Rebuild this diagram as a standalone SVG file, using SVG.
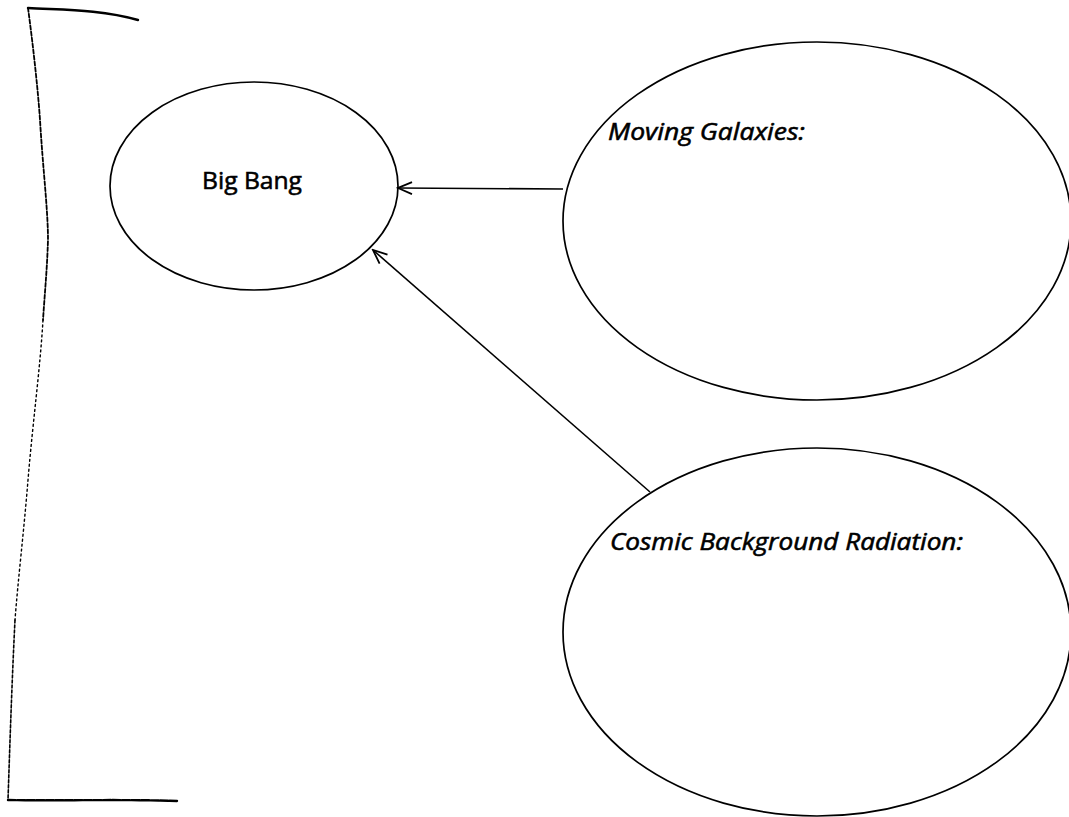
<svg xmlns="http://www.w3.org/2000/svg" width="1069" height="817" viewBox="0 0 1069 817">
<style>
.node{fill:none;stroke:#000;stroke-width:1.7}
.lbl{font-family:"Open Sans","Noto Sans",sans-serif;font-size:23px;font-weight:400;fill:#000;stroke:#000;stroke-width:0.55}
.it{font-style:italic}
.conn{stroke:#000;stroke-width:1.6;fill:none}
.brk{stroke:#000;fill:none;stroke-linecap:round}
</style>
<defs>
<marker id="arr" viewBox="-16 -8 18 16" markerWidth="18" markerHeight="16" refX="0" refY="0" orient="auto" markerUnits="userSpaceOnUse">
<path d="M-14,-6 L0,0 L-14,6" fill="none" stroke="#000" stroke-width="1.8"/>
</marker>
</defs>
<rect width="1069" height="817" fill="#fff"/>
<g id="bracket">
<path class="brk" stroke-width="2.4" d="M28,8 C60,10 100,9 138,20"/>
<path class="brk" stroke-width="1.8" stroke-dasharray="4 2" d="M28,8 C33,45 38,90 40,120 C43,170 48,210 48,240 C47,270 45,290 43,320"/>
<path class="brk" stroke-width="1.4" stroke-dasharray="2 3" d="M43,320 C40,370 33,420 28,480 C24,530 18,580 15,620"/>
<path class="brk" stroke-width="1.6" stroke-dasharray="3 2" d="M15,620 C12,680 10,740 8,800"/>
<path class="brk" stroke-width="2.4" stroke-dasharray="8 1.5" d="M8,800 C60,801 120,799 177,801"/>
</g>
<g id="connectors">
<line class="conn" x1="563" y1="189" x2="398" y2="188" marker-end="url(#arr)"/>
<line class="conn" x1="650" y1="492" x2="373" y2="250" marker-end="url(#arr)"/>
</g>
<g id="big-bang">
<ellipse class="node" cx="254" cy="186" rx="144" ry="104"/>
<text class="lbl" x="202" y="189" textLength="100" lengthAdjust="spacingAndGlyphs">Big Bang</text>
</g>
<g id="moving-galaxies">
<ellipse class="node" cx="817" cy="221" rx="254" ry="179"/>
<text class="lbl it" x="608" y="140" textLength="197" lengthAdjust="spacingAndGlyphs">Moving Galaxies:</text>
</g>
<g id="cosmic-background-radiation">
<ellipse class="node" cx="817" cy="632" rx="254" ry="184"/>
<text class="lbl it" x="610" y="550" textLength="353" lengthAdjust="spacingAndGlyphs">Cosmic Background Radiation:</text>
</g>
</svg>
